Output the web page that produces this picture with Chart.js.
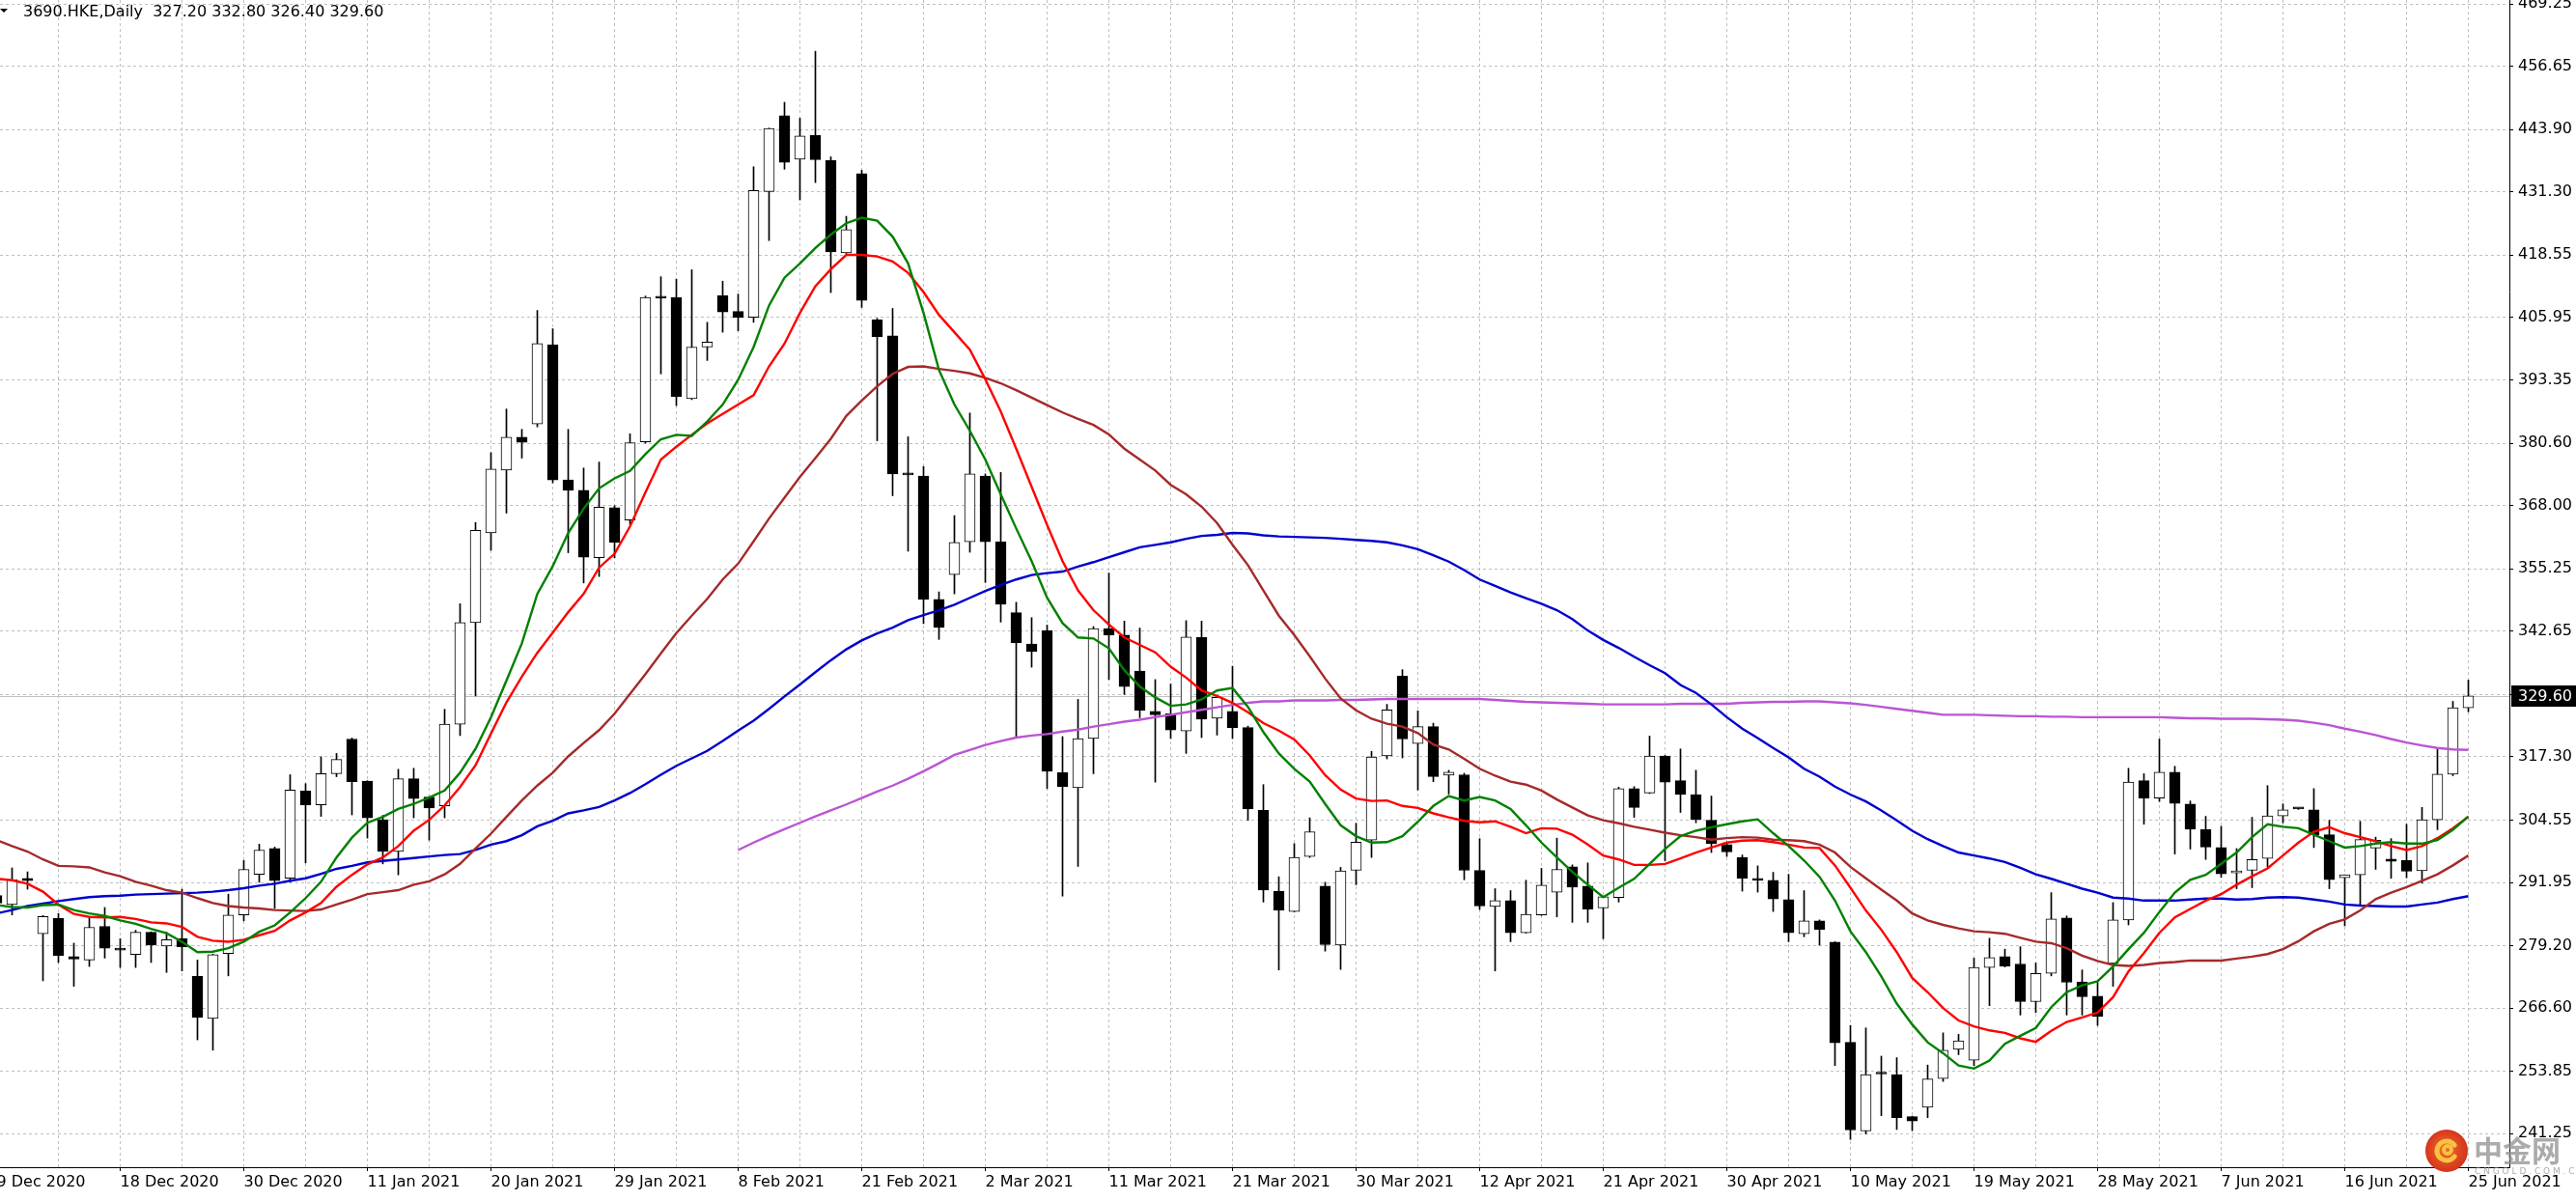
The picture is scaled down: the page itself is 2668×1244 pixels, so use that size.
<!DOCTYPE html>
<html>
<head>
<meta charset="utf-8">
<title>3690.HKE,Daily</title>
<script src="https://cdn.jsdelivr.net/npm/chart.js@4.4.1/dist/chart.umd.min.js"></script>
<style>
  html, body { margin: 0; padding: 0; background: #fff; overflow: hidden; }
  canvas { display: block; }
</style>
</head>
<body>
<canvas id="chart" width="2668" height="1244"></canvas>
<script>
// daily bars, oldest first (one entry per bar)
const opens = [
  289.3, 287.5, 292.8, 281.6, 284.7, 277.0, 276.3, 283.1, 278.6, 277.4,
  281.9, 279.1, 280.6, 273.0, 264.5, 277.6, 285.4, 293.6, 298.8, 292.8,
  310.4, 307.6, 313.9, 320.9, 312.4, 304.6, 298.2, 312.9, 309.2, 307.4,
  323.9, 344.4, 362.5, 375.2, 381.8, 384.5, 400.5, 373.2, 371.1, 357.5,
  367.6, 365.1, 380.9, 410.0, 410.0, 389.6, 400.0, 410.4, 407.2, 406.0,
  431.4, 446.7, 437.9, 442.7, 437.7, 419.0, 435.0, 405.5, 402.3, 374.3,
  374.0, 349.1, 354.1, 360.7, 374.0, 360.7, 346.4, 340.1, 342.8, 314.1,
  311.1, 321.0, 343.2, 341.9, 334.6, 326.5, 326.0, 322.5, 341.4, 325.1,
  326.5, 323.2, 306.5, 290.2, 286.1, 297.2, 291.2, 279.3, 294.4, 300.5,
  317.5, 333.6, 320.0, 323.4, 313.6, 313.7, 294.4, 287.1, 288.3, 281.8,
  285.4, 290.0, 295.1, 291.2, 286.8, 288.9, 310.9, 310.0, 317.5, 312.5,
  309.7, 304.5, 299.6, 297.0, 292.5, 292.4, 288.5, 281.6, 284.2, 279.9,
  259.7, 241.8, 253.4, 253.2, 244.7, 246.6, 252.4, 258.3, 256.1, 274.8,
  277.0, 275.5, 267.9, 273.6, 284.8, 271.9, 269.0, 275.6, 284.4, 312.5,
  309.0, 314.2, 307.8, 302.6, 299.0, 293.9, 294.4, 296.8, 305.4, 306.8,
  306.6, 301.6, 292.9, 293.5, 298.9, 296.7, 296.4, 294.3, 304.6, 313.8,
  327.2
];
const highs = [
  290.5, 294.9, 294.1, 285.3, 285.7, 279.7, 284.7, 286.9, 280.6, 282.3,
  282.0, 281.9, 290.6, 276.3, 277.5, 289.6, 296.4, 299.7, 299.1, 313.7,
  311.9, 317.3, 318.0, 321.1, 312.5, 305.5, 314.8, 315.0, 309.3, 326.9,
  348.2, 364.6, 378.7, 387.5, 383.4, 407.4, 403.7, 383.4, 375.6, 376.8,
  368.0, 382.5, 410.3, 414.2, 413.7, 415.6, 405.0, 413.3, 410.7, 436.4,
  444.2, 449.4, 446.2, 459.7, 438.4, 426.4, 435.7, 405.8, 407.8, 381.9,
  375.9, 350.6, 366.0, 386.7, 374.4, 374.7, 348.5, 345.4, 343.9, 321.4,
  328.9, 343.6, 354.4, 344.7, 343.3, 332.9, 332.0, 344.8, 344.7, 329.5,
  335.6, 323.5, 311.7, 293.1, 299.8, 305.0, 292.0, 295.0, 303.9, 318.4,
  327.9, 334.9, 326.6, 324.1, 314.6, 314.0, 300.8, 290.7, 290.3, 292.4,
  294.8, 300.9, 295.5, 295.9, 289.2, 311.2, 311.3, 321.5, 317.6, 318.9,
  314.6, 309.4, 300.0, 297.5, 295.3, 294.0, 293.6, 290.3, 284.4, 280.0,
  263.1, 262.6, 256.9, 256.6, 244.8, 255.1, 261.6, 261.3, 276.7, 280.7,
  278.5, 279.0, 275.7, 289.9, 285.2, 274.3, 271.8, 287.9, 315.0, 313.9,
  320.9, 315.4, 308.4, 305.3, 303.3, 298.8, 305.1, 311.5, 307.8, 306.9,
  310.9, 304.5, 293.5, 304.3, 301.1, 300.8, 303.7, 307.1, 318.9, 328.5,
  332.8
];
const lows = [
  286.5, 285.4, 290.6, 272.1, 275.8, 271.0, 275.0, 276.7, 274.8, 274.8,
  275.8, 273.8, 274.1, 260.2, 258.1, 273.1, 284.2, 292.0, 286.7, 292.0,
  295.9, 305.3, 313.3, 305.6, 300.9, 295.7, 293.5, 305.0, 300.5, 305.0,
  321.6, 329.6, 359.0, 366.5, 377.6, 383.9, 372.6, 358.5, 352.4, 353.7,
  357.5, 364.2, 380.6, 394.6, 388.2, 389.4, 397.3, 403.0, 403.3, 405.0,
  421.5, 435.9, 429.7, 433.2, 411.0, 418.9, 408.0, 381.1, 370.0, 358.8,
  344.2, 341.0, 350.2, 358.6, 352.5, 344.5, 321.3, 335.4, 310.9, 289.2,
  295.2, 313.9, 332.9, 329.9, 325.2, 312.2, 321.0, 318.0, 321.2, 321.7,
  321.0, 304.5, 288.0, 274.3, 286.0, 297.0, 278.1, 274.4, 291.5, 297.0,
  316.9, 317.1, 310.6, 312.3, 309.8, 292.5, 286.5, 274.1, 280.0, 281.7,
  285.3, 285.0, 283.9, 283.9, 280.6, 288.0, 305.1, 309.9, 296.3, 306.1,
  304.0, 298.0, 297.2, 290.2, 290.0, 286.1, 280.0, 281.0, 279.3, 255.0,
  240.1, 241.2, 244.9, 242.1, 241.9, 244.5, 251.8, 257.2, 255.0, 267.1,
  274.9, 265.2, 265.7, 273.1, 265.2, 265.2, 263.1, 271.0, 283.4, 303.7,
  308.3, 297.7, 298.7, 296.6, 293.0, 290.7, 290.9, 295.1, 304.0, 306.7,
  299.0, 290.7, 283.2, 287.3, 294.6, 292.8, 292.9, 291.8, 302.6, 313.5,
  326.4
];
const closes = [
  287.8, 292.5, 292.3, 285.1, 277.2, 276.5, 282.9, 278.7, 278.3, 281.9,
  279.3, 280.4, 279.0, 264.7, 277.4, 285.4, 294.6, 298.5, 292.3, 310.6,
  307.6, 313.9, 316.8, 312.3, 305.0, 298.2, 312.9, 308.9, 307.0, 323.9,
  344.4, 363.0, 375.4, 381.8, 380.8, 400.7, 373.2, 371.1, 357.6, 367.7,
  360.6, 380.7, 410.0, 409.9, 390.0, 400.0, 401.0, 407.1, 406.0, 431.6,
  444.1, 437.3, 442.6, 437.8, 419.2, 423.7, 409.4, 402.1, 374.4, 374.2,
  349.1, 343.4, 360.6, 374.4, 360.7, 348.1, 340.3, 338.6, 314.4, 311.3,
  321.0, 343.2, 341.9, 331.5, 326.7, 325.8, 322.7, 341.5, 324.9, 329.3,
  323.2, 306.8, 290.4, 286.4, 297.0, 302.2, 279.4, 294.3, 300.1, 317.3,
  326.8, 320.9, 323.4, 313.3, 314.2, 294.4, 287.2, 288.3, 281.8, 285.5,
  291.4, 294.6, 291.0, 286.6, 289.1, 310.9, 307.1, 317.5, 312.2, 309.7,
  304.7, 299.8, 298.1, 292.8, 292.4, 288.6, 281.8, 284.2, 282.5, 259.6,
  242.0, 253.2, 253.3, 244.5, 243.8, 252.3, 258.1, 260.0, 274.8, 276.8,
  275.1, 267.9, 273.6, 284.6, 271.8, 268.9, 264.9, 284.4, 312.2, 309.0,
  314.2, 307.9, 302.7, 299.1, 293.7, 294.3, 296.6, 305.4, 306.6, 306.8,
  301.6, 292.5, 293.5, 300.6, 300.5, 296.2, 294.2, 304.6, 313.8, 327.2,
  329.6
];

// moving averages
const maGreen = [
  287.4, 287.0, 286.9, 287.4, 287.5, 286.4, 285.7, 285.2, 284.3, 283.6,
  282.6, 281.7, 280.0, 277.9, 278.0, 278.7, 280.0, 282.0, 283.3, 285.9,
  288.8, 292.1, 297.0, 301.0, 304.0, 305.2, 306.8, 307.8, 309.1, 310.5,
  314.1, 318.9, 325.3, 332.7, 340.2, 350.2, 355.8, 362.5, 367.4, 371.5,
  373.5, 375.0, 378.4, 381.4, 382.3, 382.1, 385.0, 388.4, 393.4, 400.0,
  408.4, 414.0, 416.9, 420.0, 422.7, 425.0, 426.1, 425.5, 422.3, 416.9,
  406.9, 395.4, 388.4, 383.1, 377.3, 370.3, 363.4, 356.8, 349.4, 344.3,
  341.4, 341.2, 339.2, 334.8, 331.5, 329.3, 327.6, 327.9, 328.9, 330.7,
  331.2, 327.4, 322.3, 318.0, 314.9, 312.3, 307.8, 303.5, 301.3, 300.0,
  300.1, 301.3, 304.2, 307.4, 309.4, 308.5, 309.2, 308.5, 306.8, 303.5,
  300.0, 297.0, 294.1, 291.5, 289.0, 290.9, 292.7, 295.7, 298.7, 301.3,
  302.4, 303.1, 303.7, 304.3, 304.7, 301.9, 299.3, 296.4, 293.1, 288.3,
  282.1, 277.9, 273.0, 267.5, 263.3, 259.7, 257.5, 255.0, 254.4, 256.0,
  259.4, 261.0, 262.6, 266.8, 269.8, 271.2, 272.0, 275.0, 278.5, 281.8,
  286.0, 289.9, 292.5, 293.5, 295.7, 298.0, 301.1, 303.7, 303.2, 302.9,
  301.6, 300.3, 299.0, 299.3, 299.8, 300.1, 299.8, 299.8, 300.5, 302.6,
  305.3
];
const maRed = [
  292.7, 292.4, 291.7, 290.1, 287.5, 285.6, 285.0, 284.9, 285.0, 284.6,
  283.9, 283.7, 283.0, 281.0, 280.2, 280.0, 280.4, 281.3, 282.2, 284.3,
  285.9, 287.8, 291.1, 293.5, 295.6, 297.0, 299.3, 302.4, 304.6, 307.5,
  311.2, 315.6, 322.0, 328.3, 333.5, 338.3, 342.4, 346.5, 350.2, 355.5,
  358.3, 363.8, 370.7, 377.3, 379.9, 382.3, 384.6, 386.5, 388.4, 390.3,
  396.1, 400.7, 406.9, 412.3, 415.7, 418.6, 418.6, 418.3, 417.3, 415.0,
  411.1, 406.5, 403.0, 399.5, 393.5, 387.0, 379.5, 371.8, 364.1, 356.8,
  350.9, 346.9, 344.0, 341.4, 339.9, 338.4, 335.5, 333.3, 330.7, 329.6,
  328.2, 326.3, 324.1, 322.6, 320.8, 317.6, 313.6, 310.7, 308.9, 308.4,
  308.5, 307.4, 307.0, 305.9, 305.1, 304.4, 304.1, 304.3, 303.2, 301.9,
  302.9, 302.8, 301.6, 299.6, 297.4, 296.6, 295.5, 295.5, 295.7, 296.8,
  298.0, 299.0, 300.0, 300.4, 300.5, 300.1, 299.6, 299.0, 298.9, 295.4,
  290.9, 286.3, 282.4, 277.9, 272.7, 269.8, 266.6, 264.1, 262.9, 262.1,
  261.6, 260.5, 259.8, 262.0, 263.8, 264.7, 265.7, 268.8, 274.0, 277.7,
  281.8, 284.9, 286.6, 288.3, 289.6, 291.5, 293.2, 294.8, 297.4, 300.0,
  302.2, 303.1, 301.9, 301.1, 300.3, 299.3, 298.5, 299.3, 300.9, 302.9,
  305.2
];
const maBrown = [
  300.5, 299.3, 298.2, 296.6, 295.3, 295.2, 295.0, 294.0, 293.2, 292.1,
  291.3, 290.4, 289.9, 288.8, 287.8, 287.2, 286.9, 286.7, 286.4, 286.3,
  286.2, 286.5, 287.5, 288.5, 289.6, 290.0, 290.4, 291.5, 292.2, 293.6,
  295.7, 298.8, 301.8, 305.2, 308.5, 311.5, 314.1, 317.4, 320.1, 322.7,
  326.0, 330.0, 334.0, 338.2, 342.3, 345.8, 349.2, 353.1, 356.3, 360.8,
  365.4, 369.6, 373.8, 377.6, 381.5, 386.1, 389.2, 392.1, 394.6, 396.0,
  396.1, 395.6, 395.2, 394.7, 393.8, 392.7, 391.3, 389.8, 388.3, 386.8,
  385.5, 384.3, 382.4, 379.5, 377.3, 375.1, 372.2, 370.3, 367.8, 364.5,
  360.1, 356.0, 350.9, 345.8, 341.9, 337.6, 333.1, 329.1, 326.7, 325.0,
  324.0, 323.4, 322.1, 319.8, 318.8, 316.9, 314.9, 313.5, 312.3, 311.7,
  310.5, 308.7, 307.1, 305.5, 304.5, 303.9, 303.2, 302.6, 302.0, 301.5,
  301.1, 300.6, 300.9, 301.1, 301.0, 300.6, 300.5, 300.3, 299.6, 298.0,
  295.1, 292.8, 290.5, 288.3, 285.7, 284.3, 283.4, 282.7, 282.1, 281.9,
  281.6, 280.8, 280.0, 279.7, 278.7, 277.2, 276.1, 275.3, 275.1, 275.3,
  275.7, 275.9, 276.2, 276.2, 276.2, 276.6, 277.0, 277.5, 278.5, 280.1,
  282.1, 283.6, 284.5, 286.3, 288.6, 289.9, 291.0, 292.3, 293.6, 295.4,
  297.4
];
const maBlue = [
  285.7, 286.4, 287.2, 287.7, 288.2, 288.6, 289.0, 289.2, 289.3, 289.5,
  289.6, 289.7, 289.8, 289.9, 290.1, 290.4, 290.8, 291.3, 291.7, 292.3,
  292.8, 293.7, 294.7, 295.3, 296.0, 296.3, 296.6, 296.9, 297.2, 297.5,
  297.7, 298.5, 299.6, 300.3, 301.5, 303.3, 304.4, 305.9, 306.5, 307.2,
  308.5, 310.0, 311.8, 313.7, 315.5, 317.0, 318.5, 320.5, 322.6, 324.6,
  327.0, 329.5, 331.9, 334.4, 336.8, 339.0, 340.8, 342.2, 343.4, 344.9,
  345.9, 346.9, 348.0, 349.4, 350.8, 352.0, 353.1, 354.0, 354.4, 354.7,
  355.7, 356.6, 357.6, 358.6, 359.6, 360.1, 360.6, 361.3, 361.9, 362.1,
  362.5, 362.4, 362.0, 361.8, 361.7, 361.6, 361.5, 361.3, 361.1, 360.9,
  360.6, 360.0, 359.2, 358.0, 356.7, 355.0, 353.1, 351.8, 350.5, 349.3,
  348.2, 346.9, 345.1, 342.8, 340.9, 339.3, 337.5, 335.8, 334.2, 331.8,
  330.2, 327.9, 325.3, 323.0, 321.1, 319.1, 317.2, 314.9, 313.3, 311.3,
  309.7, 308.3, 306.5, 304.5, 302.4, 300.7, 299.3, 298.0, 297.4, 296.8,
  296.1, 294.9, 293.6, 292.7, 291.7, 290.7, 289.9, 288.9, 288.7, 288.3,
  288.3, 288.3, 288.5, 288.7, 288.7, 288.5, 288.6, 288.9, 289.0, 288.9,
  288.5, 288.1, 287.5, 287.3, 287.2, 287.1, 287.1, 287.5, 287.9, 288.6,
  289.2
];
const maOrchid = [
  null, null, null, null, null, null, null, null, null, null,
  null, null, null, null, null, null, null, null, null, null,
  null, null, null, null, null, null, null, null, null, null,
  null, null, null, null, null, null, null, null, null, null,
  null, null, null, null, null, null, null, null, 298.5, 300.0,
  301.4, 302.7, 304.0, 305.3, 306.5, 307.7, 309.0, 310.3, 311.5, 312.9,
  314.4, 316.0, 317.7, 318.7, 319.7, 320.5, 321.2, 321.6, 321.9, 322.4,
  322.8, 323.4, 323.9, 324.4, 324.8, 325.3, 325.8, 326.3, 326.8, 327.3,
  327.8, 328.2, 328.5, 328.5, 328.7, 328.7, 328.7, 328.8, 328.8, 328.9,
  329.0, 329.0, 329.0, 329.0, 329.0, 329.0, 329.0, 328.8, 328.6, 328.4,
  328.3, 328.2, 328.1, 328.0, 327.9, 327.9, 327.9, 327.9, 327.9, 328.0,
  328.0, 328.0, 328.0, 328.2, 328.3, 328.4, 328.4, 328.5, 328.5, 328.3,
  328.1, 327.8, 327.4, 327.0, 326.6, 326.2, 325.8, 325.8, 325.8, 325.7,
  325.6, 325.5, 325.5, 325.4, 325.4, 325.3, 325.3, 325.3, 325.3, 325.3,
  325.3, 325.2, 325.1, 325.1, 325.0, 325.0, 325.0, 324.9, 324.8, 324.6,
  324.2, 323.7, 323.0, 322.4, 321.7, 320.9, 320.2, 319.6, 319.1, 318.8,
  318.7
];

// axis labels: one date every 8 bars, price grid as printed by the terminal
const xTickLabels = [
  '9 Dec 2020', '18 Dec 2020', '30 Dec 2020', '11 Jan 2021', '20 Jan 2021',
  '29 Jan 2021', '8 Feb 2021', '21 Feb 2021', '2 Mar 2021', '11 Mar 2021',
  '21 Mar 2021', '30 Mar 2021', '12 Apr 2021', '21 Apr 2021', '30 Apr 2021',
  '10 May 2021', '19 May 2021', '28 May 2021', '7 Jun 2021', '16 Jun 2021',
  '25 Jun 2021'
];
const yTickLabels = [
  '241.25', '253.85', '266.60', '279.20', '291.95', '304.55', '317.30',
  '329.90', '342.65', '355.25', '368.00', '380.60', '393.35', '405.95',
  '418.55', '431.30', '443.90', '456.65', '469.25'
];
const symbolName = '3690.HKE,Daily';

const lastIdx = closes.length - 1;
const FONT = '"DejaVu Sans", Verdana, sans-serif';

const wickData = closes.map((c, i) => ({ x: i, y: [lows[i], highs[i]] }));
const bodyData = closes.map((c, i) => ({ x: i, y: [opens[i], closes[i]] }));
const gridBars = [];
xTickLabels.forEach((t, k) => { gridBars.push(k * 8); if (k < xTickLabels.length - 1) gridBars.push(k * 8 + 4); });

function maLine(label, values, color) {
  return {
    type: 'line',
    label: label,
    data: values.map((v, i) => ({ x: i, y: v })),
    borderColor: color,
    borderWidth: 2.4,
    pointRadius: 0,
    tension: 0,
    fill: false,
    spanGaps: false
  };
}

// bid line, header, price tag and the site watermark
const terminalDecor = {
  id: 'terminalDecor',
  beforeDatasetsDraw(chart) {
    const ctx = chart.ctx, area = chart.chartArea;
    const py = Math.round(chart.scales.y.getPixelForValue(closes[lastIdx])) + 0.5;
    ctx.save();
    ctx.strokeStyle = '#c0c0c0';
    ctx.lineWidth = 1;
    ctx.beginPath();
    ctx.moveTo(area.left, py);
    ctx.lineTo(area.right, py);
    ctx.stroke();
    ctx.restore();
  },
  afterDraw(chart) {
    const ctx = chart.ctx, area = chart.chartArea, ys = chart.scales.y;
    ctx.save();

    // header
    ctx.fillStyle = '#000';
    ctx.beginPath();
    ctx.moveTo(0, 9); ctx.lineTo(8, 9); ctx.lineTo(4, 13); ctx.closePath();
    ctx.fill();
    ctx.font = '16px ' + FONT;
    ctx.textBaseline = 'alphabetic';
    ctx.textAlign = 'left';
    const ohlc = [opens, highs, lows, closes].map(a => a[lastIdx].toFixed(2)).join(' ');
    ctx.fillText(symbolName + '  ' + ohlc, 24, 17);

    // current price tag
    const py = Math.round(ys.getPixelForValue(closes[lastIdx]));
    ctx.fillStyle = '#000';
    ctx.fillRect(ys.left + 2, py - 11, chart.width - ys.left - 2, 22);
    ctx.fillStyle = '#fff';
    ctx.textBaseline = 'middle';
    ctx.fillText(closes[lastIdx].toFixed(2), ys.left + 9, py + 1);

    // watermark
    const cx = area.right - 65, cy = area.bottom - 17;
    const g = ctx.createRadialGradient(cx - 3, cy - 3, 2, cx, cy, 23);
    g.addColorStop(0, '#ee6a2a');
    g.addColorStop(1, '#d3311b');
    ctx.fillStyle = g;
    ctx.beginPath(); ctx.arc(cx, cy, 22, 0, Math.PI * 2); ctx.fill();
    ctx.strokeStyle = '#f8c340';
    ctx.lineCap = 'round';
    ctx.lineWidth = 5;
    ctx.beginPath(); ctx.arc(cx, cy, 10, Math.PI * 0.2, Math.PI * 1.8); ctx.stroke();
    ctx.lineWidth = 4;
    ctx.beginPath(); ctx.arc(cx + 1, cy - 1, 4, 0, Math.PI * 2); ctx.stroke();
    ctx.globalAlpha = 0.75;
    ctx.fillStyle = '#8f8f8f';
    ctx.textBaseline = 'alphabetic';
    ctx.font = '700 30px "Noto Sans CJK SC", sans-serif';
    ctx.fillText('中金网', cx + 28, cy + 11);
    ctx.font = '9px ' + FONT;
    ctx.fillText('C N G O L D . C O M . C N', cx + 29, cy + 24);
    ctx.restore();
  }
};

Chart.defaults.font.family = FONT;
Chart.defaults.font.size = 16;
Chart.defaults.color = '#000';

new Chart(document.getElementById('chart'), {
  type: 'bar',
  data: {
    datasets: [
      maLine('green', maGreen, '#008000'),
      maLine('red', maRed, '#ff0000'),
      maLine('brown', maBrown, '#a52a2a'),
      maLine('blue', maBlue, '#0000cd'),
      maLine('orchid', maOrchid, '#ba55d3'),
      {
        type: 'bar',
        label: 'body',
        data: bodyData,
        barThickness: 11,
        grouped: false,
        minBarLength: 2,
        backgroundColor: c => (c.raw && c.raw.y[1] > c.raw.y[0]) ? '#ffffff' : '#000000',
        borderColor: '#000',
        borderWidth: 1,
        borderSkipped: false
      },
      {
        type: 'bar',
        label: 'wick',
        data: wickData,
        barThickness: 1,
        grouped: false,
        backgroundColor: '#000',
        borderWidth: 0
      }
    ]
  },
  options: {
    responsive: false,
    animation: false,
    devicePixelRatio: 1,
    events: [],
    layout: { padding: 0 },
    plugins: { legend: { display: false }, tooltip: { enabled: false } },
    scales: {
      x: {
        type: 'linear',
        min: 0.21875,
        max: 162.65625,
        bounds: 'data',
        offset: false,
        afterBuildTicks: s => { s.ticks = gridBars.map(v => ({ value: v })); },
        afterFit: s => { s.height = 35; s.paddingLeft = 0; s.paddingRight = 0; },
        ticks: {
          autoSkip: false,
          maxRotation: 0,
          minRotation: 0,
          align: 'start',
          padding: 2,
          color: '#000',
          callback: v => (v % 8 === 0) ? xTickLabels[v / 8] : ''
        },
        grid: {
          offset: false,
          color: '#c0c0c0',
          lineWidth: 1,
          tickLength: 4,
          tickColor: c => (c.tick && c.tick.value % 8 === 0) ? '#000' : 'rgba(0,0,0,0)'
        },
        border: { display: true, color: '#000', width: 1, dash: [3, 3] }
      },
      y: {
        type: 'linear',
        position: 'right',
        min: 234.49,
        max: 470.05,
        bounds: 'data',
        afterBuildTicks: s => { s.ticks = yTickLabels.map(t => ({ value: parseFloat(t) })); },
        afterFit: s => { s.width = 69; s.paddingTop = 0; s.paddingBottom = 0; },
        ticks: {
          autoSkip: false,
          padding: 5,
          color: '#000',
          callback: (v, i) => yTickLabels[i]
        },
        grid: { color: '#c0c0c0', lineWidth: 1, tickLength: 4, tickColor: '#000' },
        border: { display: true, color: '#000', width: 1, dash: [3, 3] }
      }
    }
  },
  plugins: [terminalDecor]
});
</script>
</body>
</html>
